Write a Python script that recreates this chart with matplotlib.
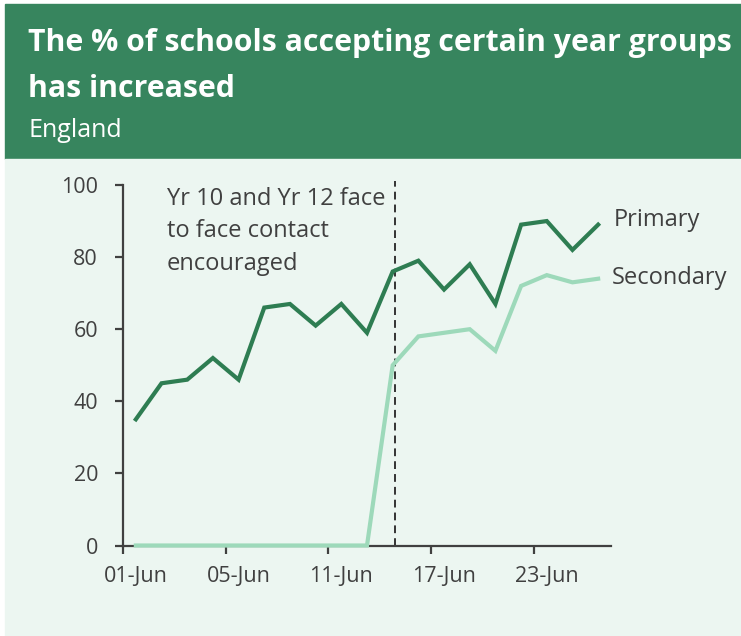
import matplotlib
matplotlib.use("Agg")
import matplotlib.pyplot as plt
from matplotlib.patches import Rectangle

# Working days in June, one point per school day
dates = ["01-Jun", "02-Jun", "03-Jun", "04-Jun", "05-Jun", "08-Jun", "09-Jun",
         "10-Jun", "11-Jun", "12-Jun", "15-Jun", "16-Jun", "17-Jun", "18-Jun",
         "19-Jun", "22-Jun", "23-Jun", "24-Jun", "25-Jun"]
primary = [35, 45, 46, 52, 46, 66, 67, 61, 67, 59, 76, 79, 71, 78, 67, 89, 90, 82, 89]
secondary = [0, 0, 0, 0, 0, 0, 0, 0, 0, 0, 50, 58, 59, 60, 54, 72, 75, 73, 74]
yticks = [0, 20, 40, 60, 80, 100]
event_index = 10  # 15-Jun: Yr 10 / Yr 12 return
note_lines = ["Yr 10 and Yr 12 face", "to face contact", "encouraged"]

W, H = 741, 636
DPI = 100
FONT = "Open Sans"
TEXT = "#404040"
BANNER = "#37855E"
PANEL = "#ECF6F1"
PRIMARY_C = "#2E7D52"
SECONDARY_C = "#9DD9BA"

fig = plt.figure(figsize=(W / DPI, H / DPI), dpi=DPI, facecolor="white")

def fx(px):
    return px / W

def fy(py):
    return 1 - py / H

# Header banner and light panel behind the chart
fig.patches.append(Rectangle((fx(5), fy(159)), fx(736), 155 / H,
                             transform=fig.transFigure, color=BANNER, zorder=-10))
fig.patches.append(Rectangle((fx(5), 0), fx(736), fy(159),
                             transform=fig.transFigure, color=PANEL, zorder=-10))

fig.text(fx(28), fy(51), "The % of schools accepting certain year groups",
         color="white", fontsize=21.8, fontweight="bold", family=FONT, va="baseline")
fig.text(fx(28), fy(97), "has increased",
         color="white", fontsize=21.8, fontweight="bold", family=FONT, va="baseline")
fig.text(fx(28), fy(137), "England",
         color="white", fontsize=18, family=FONT, va="baseline")

ax = fig.add_axes([fx(123), fy(545.5), fx(611 - 123), (545.5 - 185) / H])
ax.set_facecolor("none")

x = list(range(len(dates)))
ax.plot(x, primary, color=PRIMARY_C, lw=3.0, solid_joinstyle="miter", clip_on=False, zorder=3)
ax.plot(x, secondary, color=SECONDARY_C, lw=3.0, solid_joinstyle="miter", clip_on=False, zorder=3)

ax.set_xlim(-0.5, len(dates) - 0.5)
ax.set_ylim(0, 100)

ax.vlines(event_index + 0.1, 0, 101, colors="#333333", linestyles=(0, (4, 2.6)),
          lw=1.4, clip_on=False, zorder=2)

for side in ("top", "right"):
    ax.spines[side].set_visible(False)
for side in ("left", "bottom"):
    ax.spines[side].set_color(TEXT)
    ax.spines[side].set_linewidth(1.6)

ax.set_yticks(yticks)
ax.set_yticklabels([str(v) for v in yticks])
ax.tick_params(axis="y", direction="out", length=6, width=1.6, color=TEXT,
               labelcolor=TEXT, labelsize=15.5, pad=12)

# Tick marks sit between categories; labels sit under every fourth day
ax.set_xticks([i - 0.5 for i in range(0, len(dates), 4)])
ax.set_xticklabels([])
ax.set_xticks(list(range(0, len(dates), 4)), minor=True)
ax.set_xticklabels([dates[i] for i in range(0, len(dates), 4)], minor=True)
ax.tick_params(axis="x", which="major", direction="out", length=6, width=1.6, color=TEXT)
ax.tick_params(axis="x", which="minor", length=0, labelcolor=TEXT, labelsize=15.5, pad=15)

for lbl in ax.get_xticklabels(minor=True) + ax.get_yticklabels():
    lbl.set_family(FONT)

# Annotation beside the dashed marker, one line per baseline
for line, yv in zip(note_lines, [94.4, 85.6, 76.4]):
    ax.text(1.2, yv, line, color=TEXT, fontsize=17, family=FONT,
            va="baseline", ha="left")

ax.text(18.6, 88.6, "Primary", color=TEXT, fontsize=17, family=FONT,
        va="baseline", ha="left")
ax.text(18.55, 72.5, "Secondary", color=TEXT, fontsize=17, family=FONT,
        va="baseline", ha="left")

fig.savefig("out.png", dpi=DPI, facecolor="white")
